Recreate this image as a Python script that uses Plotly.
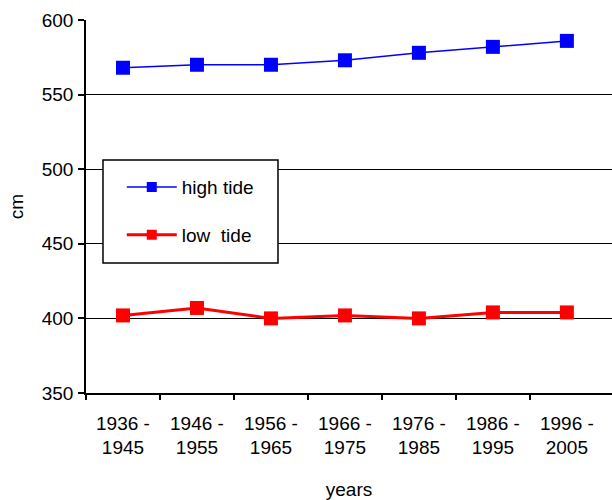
import plotly.graph_objects as go

periods = ["1936 -<br>1945", "1946 -<br>1955", "1956 -<br>1965", "1966 -<br>1975",
           "1976 -<br>1985", "1986 -<br>1995", "1996 -<br>2005"]
high_tide = [568, 570, 570, 573, 578, 582, 586]
low_tide = [402, 407, 400, 402, 400, 404, 404]

BLUE = "#0000ff"
RED = "#ff0000"

idx = list(range(len(periods)))
boundaries = [i - 0.5 for i in idx]

fig = go.Figure()
fig.add_trace(go.Scatter(x=idx, y=high_tide, name="high tide", mode="lines+markers",
                         line=dict(color=BLUE, width=1.5),
                         marker=dict(symbol="square", size=14, color=BLUE),
                         showlegend=False))
fig.add_trace(go.Scatter(x=idx, y=low_tide, name="low  tide", mode="lines+markers",
                         line=dict(color=RED, width=3),
                         marker=dict(symbol="square", size=14, color=RED),
                         showlegend=False))
# legend entries (smaller symbols, like the original)
fig.add_trace(go.Scatter(x=[None], y=[None], name="high tide", mode="lines+markers",
                         line=dict(color=BLUE, width=1.5),
                         marker=dict(symbol="square", size=10, color=BLUE),
                         legendgroup="a"))
fig.add_trace(go.Scatter(x=[None], y=[None], name="low&nbsp;&nbsp;tide", mode="lines+markers",
                         line=dict(color=RED, width=3),
                         marker=dict(symbol="square", size=10, color=RED),
                         legendgroup="b"))

font = "Liberation Sans, Arial, sans-serif"
fig.update_layout(
    width=612, height=500,
    margin=dict(l=86, r=0, t=20, b=107, autoexpand=False),
    paper_bgcolor="white", plot_bgcolor="white",
    font=dict(family=font, size=19, color="black"),
    showlegend=True,
    legend=dict(x=0.068, y=0.603, xanchor="left", yanchor="top",
                borderwidth=0, bgcolor="rgba(0,0,0,0)",
                font=dict(size=19), tracegroupgap=20, itemwidth=50,
                traceorder="grouped"),
    shapes=[dict(type="rect", xref="paper", yref="paper",
                 x0=0.0323, x1=0.365, y0=0.3485, y1=0.6247,
                 line=dict(color="black", width=1.5), fillcolor="white",
                 layer="above")],
    xaxis=dict(range=[-0.5, 6.61], showgrid=False, zeroline=False,
               tickvals=idx, ticktext=periods, ticks="",
               minor=dict(tickvals=boundaries, ticks="outside", ticklen=5,
                          tickcolor="black", tickwidth=1.5, showgrid=False),
               showline=True, linecolor="black", linewidth=1.5,
               tickfont=dict(size=19), automargin=False, ticklabelstandoff=12,
               title=dict(text="years", font=dict(size=19), standoff=34)),
    yaxis=dict(range=[350, 600], tickvals=[350, 400, 450, 500, 550, 600],
               showgrid=True, gridcolor="black", gridwidth=1.2,
               showline=True, linecolor="black", linewidth=1.5,
               ticks="outside", ticklen=6, tickcolor="black", tickwidth=1.5,
               tickfont=dict(size=19), zeroline=False, automargin=False,
               ticklabelstandoff=1,
               title=dict(text="cm", font=dict(size=19), standoff=13)),
)
fig.write_html("out.html", config={"displayModeBar": False},
               post_script="document.body.style.margin='0';document.body.style.overflow='hidden';")
